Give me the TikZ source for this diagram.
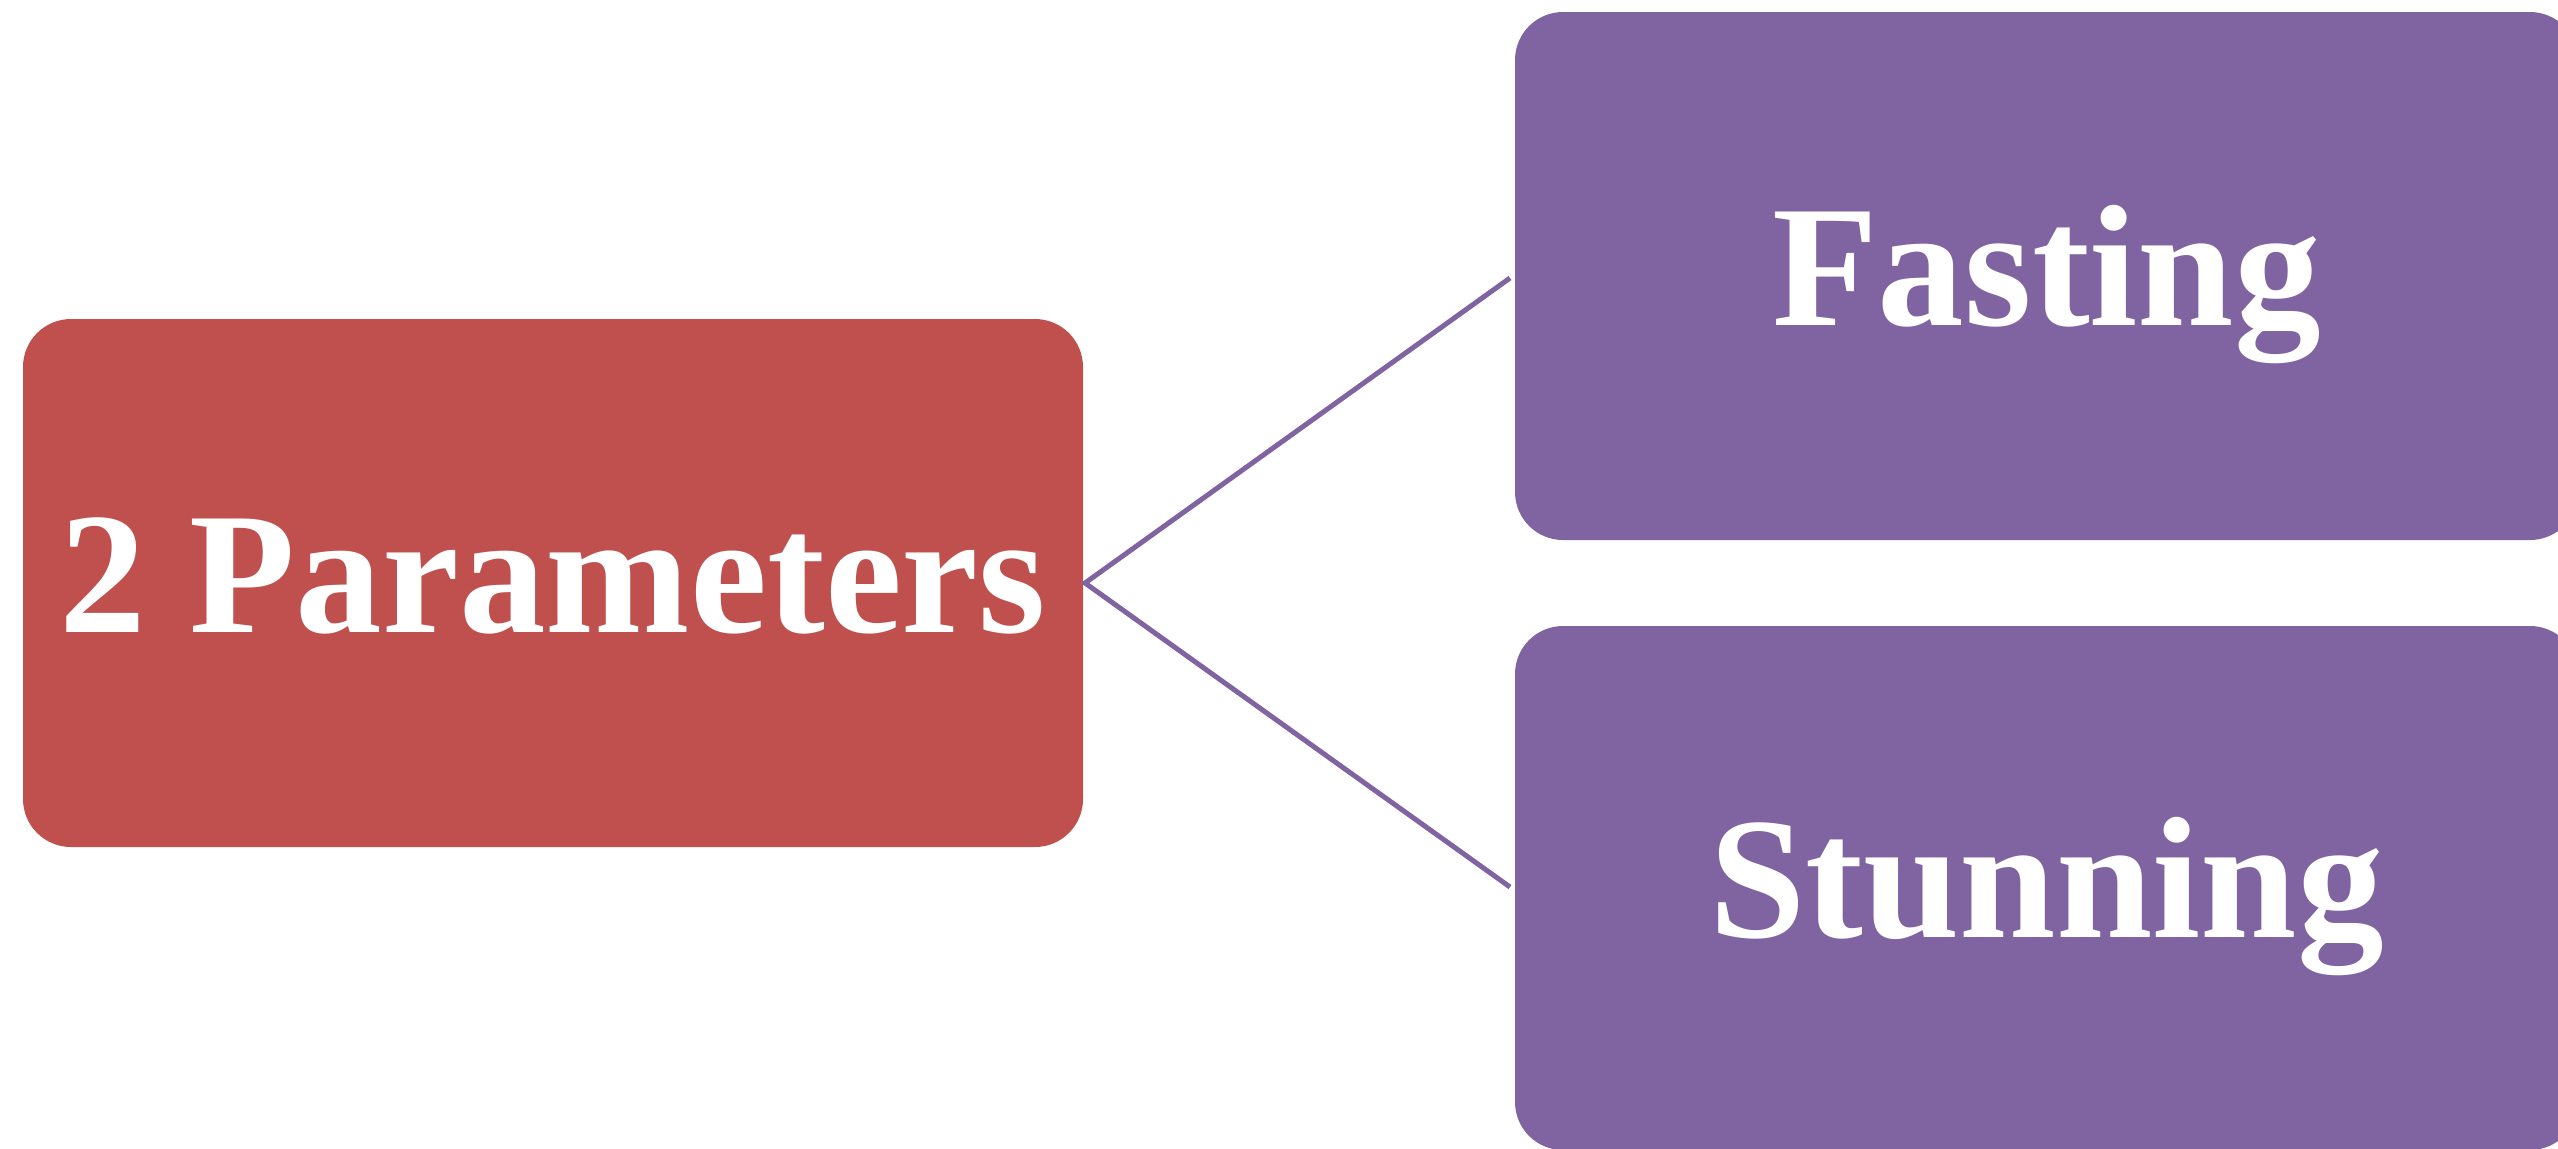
\documentclass[tikz,border=0pt]{standalone}
\usepackage{fontspec}
\setmainfont{Liberation Serif}
\definecolor{boxred}{HTML}{C0504D}
\definecolor{boxpurple}{HTML}{8064A2}
\begin{document}
\begin{tikzpicture}[x=0.3pt,y=-0.3pt,
  box/.style={rounded corners=14.4pt, inner sep=0pt, text=white,
    font=\bfseries\fontsize{52}{60}\selectfont,
    text height=35.4pt, text depth=6pt,
    minimum width=318.9pt, minimum height=158.4pt},
  link/.style={draw=boxpurple, line width=1.5pt}]
\useasboundingbox (0,0) rectangle (2558,1148);
\clip (0,0) rectangle (2558,1148);
\node[box, fill=boxred, minimum width=318pt] (param) at (553,583) {2 Parameters};
\node[box, fill=boxpurple] (fast) at (2046.5,276) {Fasting};
\node[box, fill=boxpurple, minimum height=157.2pt] (stun) at (2046.5,888) {Stunning};
\coordinate (hub) at (1085,583);
\coordinate (ta) at (1510,278);
\coordinate (tb) at (1510,887);
\draw[link] (ta) -- (hub) -- (tb);
\end{tikzpicture}
\end{document}
